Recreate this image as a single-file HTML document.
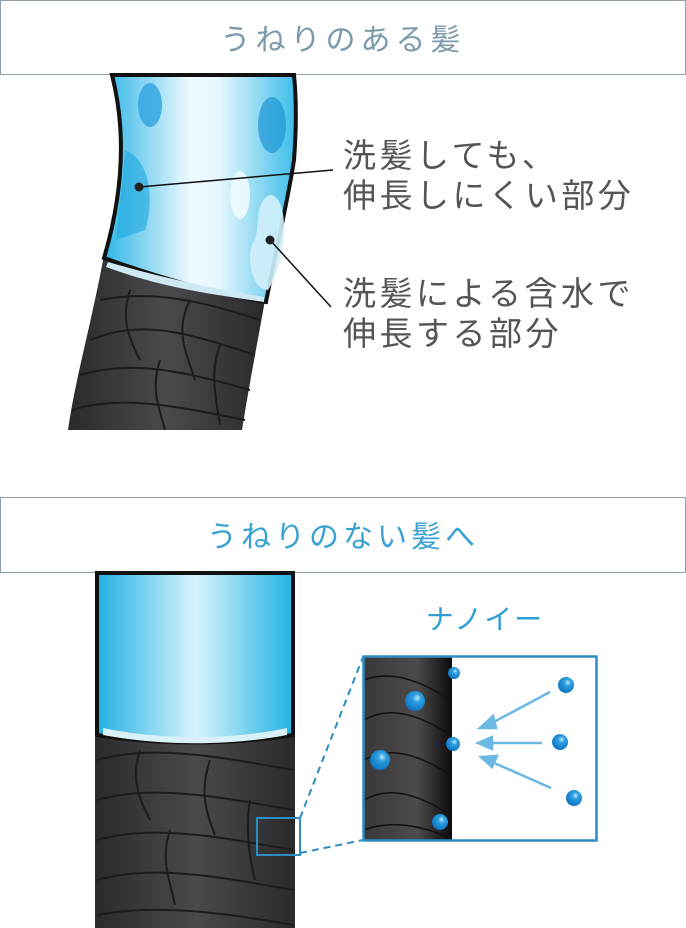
<!DOCTYPE html>
<html><head><meta charset="utf-8"><style>
body{margin:0;background:#fff;}
svg{display:block;}
text{font-family:"Liberation Sans","Noto Sans CJK JP",sans-serif;}
</style></head><body>
<svg width="686" height="928" viewBox="0 0 686 928" xmlns="http://www.w3.org/2000/svg">
<defs>
<linearGradient id="blue" x1="0" x2="1" y1="0" y2="0">
<stop offset="0" stop-color="#2eb6e6"/><stop offset="0.45" stop-color="#eefaff"/><stop offset="0.6" stop-color="#e6f7fd"/><stop offset="1" stop-color="#3cbde9"/></linearGradient>
<linearGradient id="blue2" x1="0" x2="1" y1="0" y2="0">
<stop offset="0" stop-color="#1fb0e3"/><stop offset="0.5" stop-color="#d8f4fc"/><stop offset="1" stop-color="#22b2e4"/></linearGradient>
<linearGradient id="dark" x1="0" x2="1" y1="0" y2="0">
<stop offset="0" stop-color="#2a2a2c"/><stop offset="0.5" stop-color="#4a4a4d"/><stop offset="1" stop-color="#2a2a2c"/></linearGradient>
<linearGradient id="dark2" x1="0" x2="1"><stop offset="0" stop-color="#3a3839"/><stop offset="0.6" stop-color="#4d4a4b"/><stop offset="1" stop-color="#0c0a0a"/></linearGradient>
<radialGradient id="drop" cx="0.6" cy="0.35" r="0.7"><stop offset="0" stop-color="#bfeaff"/><stop offset="0.3" stop-color="#2e9fe0"/><stop offset="1" stop-color="#0a6fbf"/></radialGradient>
</defs>
<rect x="0.5" y="0.5" width="685" height="74" fill="#fff" stroke="#8aa0ae"/>
<text x="343" y="50" font-size="30" fill="#7b9aab" text-anchor="middle" letter-spacing="5">うねりのある髪</text>
<rect x="0.5" y="497.5" width="685" height="75" fill="#fff" stroke="#8aa0ae"/>
<text x="343" y="547" font-size="30" fill="#3aa2d3" text-anchor="middle" letter-spacing="4">うねりのない髪へ</text>

<path d="M104 255 C90 330 75 380 68 430 L242 430 C250 380 258 340 265 300 Z" fill="url(#dark)"/>
<g stroke="#1c1c1c" stroke-width="2" fill="none">
<path d="M100 300 C150 290 200 300 260 320"/>
<path d="M90 340 C140 320 180 330 255 355"/>
<path d="M80 375 C130 360 180 370 250 390"/>
<path d="M72 410 C120 395 170 405 245 420"/>
<path d="M130 290 C120 320 130 340 140 360"/><path d="M190 300 C175 330 185 350 195 380"/><path d="M160 360 C150 390 160 410 165 430"/><path d="M220 345 C210 370 215 395 220 425"/>
</g>
<path d="M112 75 C126 130 124 190 104 258 C160 278 210 292 266 302 C276 250 288 200 294 160 C297 120 296 95 294 75 Z" fill="url(#blue)" stroke="#111" stroke-width="4"/>
<ellipse cx="150" cy="105" rx="12" ry="22" fill="#2fa3de" opacity="0.8"/>
<ellipse cx="272" cy="125" rx="14" ry="28" fill="#1e95d6" opacity="0.7"/>
<path d="M125 150 C150 160 155 200 145 230 L116 240 C120 200 124 170 125 150Z" fill="#1ea7e0" opacity="0.6"/>
<path d="M270 195 C290 195 288 260 268 290 C250 290 245 250 255 240 C260 225 255 200 270 195Z" fill="#d2f1fb" opacity="0.9"/>
<ellipse cx="240" cy="195" rx="10" ry="24" fill="#eefaff" opacity="0.9"/>
<path d="M108 262 C160 277 210 288 264 297 L264 302 C210 294 160 287 106 267Z" fill="#cfe9f2"/>
<line x1="139" y1="187" x2="333" y2="170" stroke="#111" stroke-width="1.5"/>
<circle cx="139" cy="187" r="4.5" fill="#222"/>
<line x1="270" y1="240" x2="331" y2="307" stroke="#111" stroke-width="1.5"/>
<circle cx="270" cy="240" r="4.5" fill="#222"/>
<g font-size="33" fill="#555" letter-spacing="3.5">
<text x="343" y="167">洗髪しても、</text>
<text x="343" y="207">伸長しにくい部分</text>
<text x="343" y="305">洗髪による含水で</text>
<text x="343" y="345">伸長する部分</text>
</g>

<rect x="95" y="720" width="200" height="208" fill="url(#dark)"/>
<g stroke="#1c1c1c" stroke-width="2" fill="none">
<path d="M97 760 C150 745 210 755 293 770"/><path d="M97 800 C150 785 210 795 293 810"/><path d="M97 840 C150 825 210 835 293 850"/><path d="M97 880 C150 865 210 875 293 890"/><path d="M97 915 C150 905 210 910 293 925"/>
<path d="M140 750 C130 780 140 800 150 820"/><path d="M210 760 C200 790 205 810 215 835"/><path d="M170 830 C160 860 170 880 175 905"/><path d="M250 800 C245 830 250 860 255 880"/>
</g>
<path d="M97 573 L97 735 C160 745 230 745 293 735 L293 573 Z" fill="url(#blue2)" stroke="#111" stroke-width="4"/>
<path d="M103 728 C160 740 230 740 287 728 L287 735 C230 746 160 746 103 735Z" fill="#d9f0f6"/>
<rect x="257" y="818" width="43" height="37" fill="none" stroke="#2b8dc2" stroke-width="2"/>
<line x1="300" y1="818" x2="363" y2="657" stroke="#2b8dc2" stroke-width="2" stroke-dasharray="7,5"/>
<line x1="300" y1="853" x2="363" y2="840" stroke="#2b8dc2" stroke-width="2" stroke-dasharray="7,5"/>
<rect x="364" y="657" width="88" height="183" fill="url(#dark2)"/>
<g stroke="#111" stroke-width="1.5" fill="none">
<path d="M364 680 C390 670 420 680 450 700"/><path d="M364 720 C390 705 420 715 450 735"/><path d="M364 760 C390 745 420 755 450 775"/><path d="M364 800 C390 785 420 795 450 815"/><path d="M364 830 C390 820 420 825 450 838"/>
</g>
<rect x="363.5" y="656.5" width="233" height="184" fill="none" stroke="#2b8dc2" stroke-width="2.5"/>
<text x="485" y="629" font-size="28" fill="#2e9ed6" text-anchor="middle" letter-spacing="2">ナノイー</text>
<g fill="url(#drop)">
<circle cx="454" cy="673" r="6"/><circle cx="415" cy="701" r="10"/><circle cx="453" cy="744" r="7"/><circle cx="380" cy="760" r="10"/><circle cx="440" cy="822" r="8"/>
<circle cx="566" cy="685" r="8"/><circle cx="560" cy="742" r="8"/><circle cx="574" cy="798" r="8"/>
</g>
<g stroke="#6ab8e3" stroke-width="2.5" fill="#6ab8e3">
<line x1="550" y1="692" x2="490" y2="724"/><path d="M480 728 L493 716 L496 728Z"/>
<line x1="542" y1="743" x2="490" y2="743"/><path d="M478 743 L492 737 L492 749Z"/>
<line x1="551" y1="788" x2="492" y2="762"/><path d="M481 757 L497 756 L492 767Z"/>
</g>
</svg>
</body></html>
